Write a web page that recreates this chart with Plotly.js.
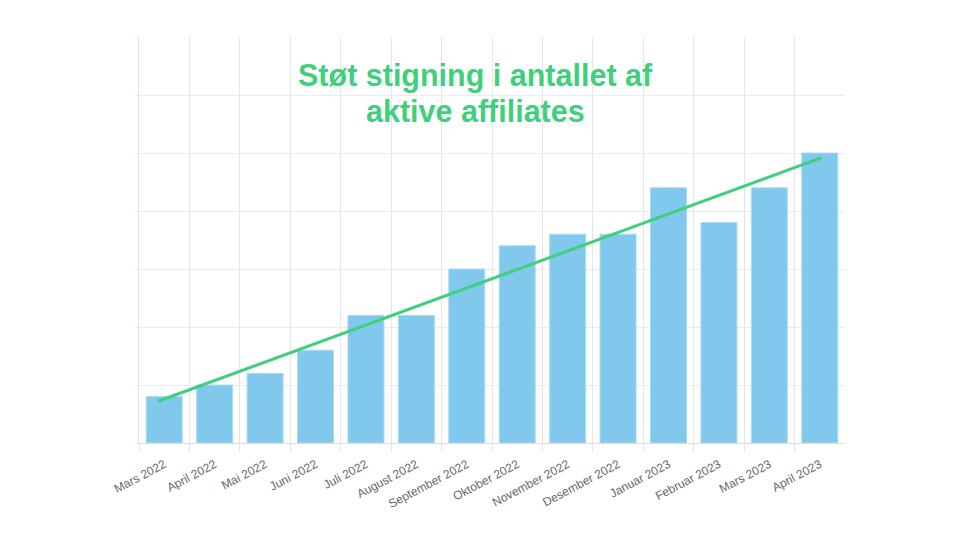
<!DOCTYPE html>
<html>
<head>
<meta charset="utf-8">
<script src="https://cdn.plot.ly/plotly-3.0.1.min.js"></script>
<style>html,body{margin:0;padding:0;background:#fff;}#chart{width:960px;height:540px;}</style>
</head>
<body>
<div id="chart"></div>
<script>
var categories = ["Mars 2022","April 2022","Mai 2022","Juni 2022","Juli 2022","August 2022","September 2022","Oktober 2022","November 2022","Desember 2022","Januar 2023","Februar 2023","Mars 2023","April 2023"];
var affiliates = [4,5,6,8,11,11,15,17,18,18,22,19,22,25];
var trendX = [-0.12, 13.04];
var trendY = [3.6, 24.6];
var titleLines = ["Støt stigning i antallet af", "aktive affiliates"];

// vertical grid lines sit on category boundaries, except the right edge
var boundaryVals = categories.map(function (c, i) { return i - 0.5; });

var green = "#41cf7c";
var traces = [
  {
    type: "bar",
    x: categories,
    y: affiliates,
    marker: {color: "#80c8ec", line: {color: "#a9dbf4", width: 1}},
    hoverinfo: "x+y"
  },
  {
    type: "scatter",
    mode: "lines",
    x: trendX,
    y: trendY,
    xaxis: "x2",
    line: {color: green, width: 3},
    hoverinfo: "skip"
  }
];
var layout = {
  width: 960, height: 540,
  margin: {l: 139, r: 115, t: 37, b: 97},
  paper_bgcolor: "#fff", plot_bgcolor: "#fff",
  showlegend: false,
  bargap: 0.286,
  font: {family: "Liberation Sans, Arial, sans-serif", color: "#666"},
  xaxis: {
    type: "category",
    showgrid: false,
    ticks: "",
    tickangle: -28,
    ticklabelstandoff: 9,
    tickfont: {size: 12, color: "#666"},
    showline: true, linecolor: "#dcdcdc", linewidth: 1,
    zeroline: false,
    range: [-0.5, 13.5]
  },
  xaxis2: {
    type: "linear",
    overlaying: "x",
    side: "bottom",
    range: [-0.5, 13.5],
    tickmode: "array",
    tickvals: boundaryVals,
    showticklabels: false,
    showgrid: true, gridcolor: "#e6e6e6", gridwidth: 1,
    ticks: "outside", ticklen: 8, tickcolor: "#e6e6e6",
    showline: false, zeroline: false
  },
  yaxis: {
    range: [0, 35], dtick: 5,
    showgrid: true, gridcolor: "#ebebeb", gridwidth: 1,
    showticklabels: false,
    ticks: "outside", ticklen: 3, tickcolor: "#ebebeb",
    showline: true, linecolor: "#e0e0e0", linewidth: 1,
    zeroline: false
  },
  annotations: titleLines.map(function (t, i) {
    return {
      xref: "paper", yref: "paper",
      x: 0.477, y: i === 0 ? 0.906 : 0.818,
      xanchor: "center", yanchor: "middle",
      text: "<b>" + t + "</b>",
      showarrow: false,
      font: {family: "Liberation Sans, Arial, sans-serif", size: 30.5, color: green}
    };
  })
};
Plotly.newPlot("chart", traces, layout, {displayModeBar: false, staticPlot: true});
</script>
</body>
</html>
